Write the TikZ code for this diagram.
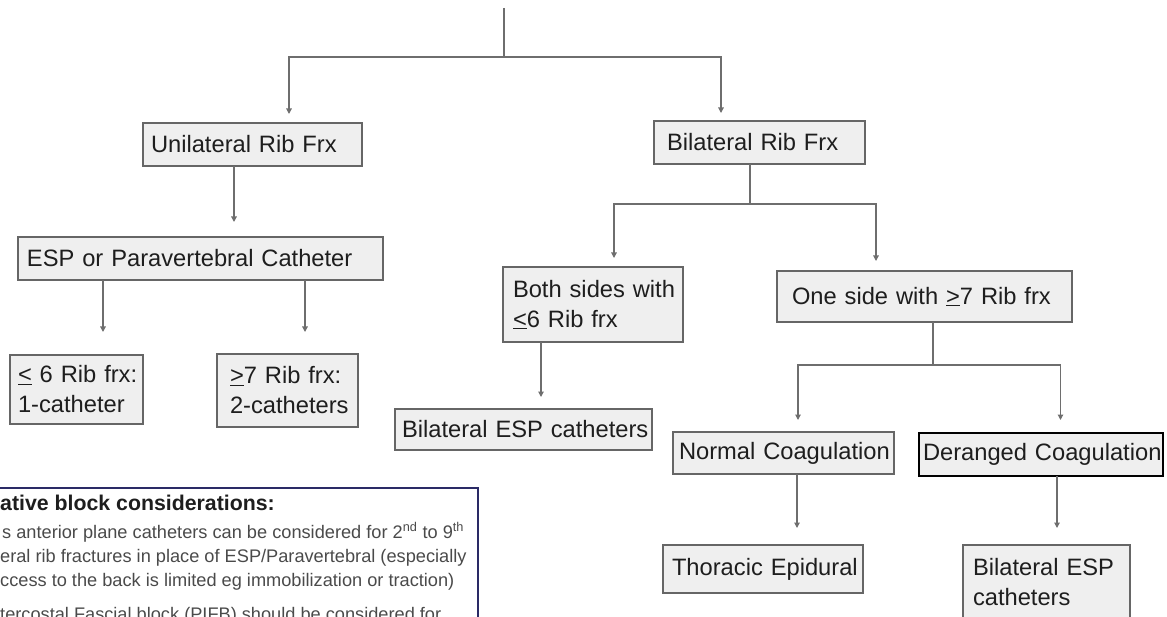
\documentclass[tikz,border=0pt]{standalone}
\usepackage{fontspec}
\setmainfont{Liberation Sans}
\usetikzlibrary{arrows.meta, calc}

\definecolor{boxgrey}{HTML}{EFEFEF}
\definecolor{edgegrey}{HTML}{666666}
\definecolor{linegrey}{HTML}{6E6E6E}
\definecolor{ink}{HTML}{1E1E1E}
\definecolor{notenavy}{HTML}{2A2A66}
\definecolor{notegrey}{HTML}{4A4A4A}

\newcommand{\boxfont}{\fontsize{23.7}{30}\selectfont\hyphenpenalty=10000\exhyphenpenalty=10000}

\begin{document}
\begin{tikzpicture}[
x=1pt, y=-1pt,
    box/.style={draw=edgegrey, line width=1.2pt, fill=boxgrey, text=ink, font=\boxfont, align=left, inner ysep=0pt, outer sep=0pt, anchor=north west},
    line/.style={draw=linegrey, line width=1.2pt},
    arr/.style={line, -{Triangle[width=5.5pt, length=5.5pt]}, shorten >=10pt},
    notehead/.style={anchor=base west, inner sep=0pt, text=ink, font=\fontsize{21.3}{26}\selectfont\bfseries},
    notebody/.style={anchor=base west, inner sep=0pt, text=notegrey, font=\fontsize{18.2}{24}\selectfont}
]
    \useasboundingbox (0,0) rectangle (1167,617);

    % ================= BOXES =================
    \node[box, text width=203pt, inner xsep=8pt, minimum height=43pt] (uni) at (143,123) {Unilateral~Rib~Frx};
    \node[box, text width=185pt, inner xsep=13pt, minimum height=43pt] (bil) at (654,121) {Bilateral~Rib~Frx};

    % Unilateral side
    \node[box, text width=347pt, inner xsep=9pt, minimum height=43pt] (esp) at (18,237) {ESP~or~Paravertebral~Catheter};
    \node[box, text width=117pt, inner xsep=8pt, minimum height=69pt] (le6) at (10,355) {\underline{<}~6~Rib~frx:\\1-catheter};
    \node[box, text width=115pt, inner xsep=13pt, minimum height=73pt] (ge7) at (217,354) {\underline{>}7~Rib~frx:\\2-catheters};

    % Bilateral side
    \node[box, text width=160pt, inner xsep=10pt, minimum height=75pt] (both) at (503,267) {Both~sides~with\\\underline{<}6~Rib~frx};
    \node[box, text width=243pt, inner xsep=7pt, minimum height=41pt] (bilesp) at (395,409) {Bilateral~ESP~catheters};
    \node[box, text width=265pt, inner xsep=15pt, minimum height=51pt] (one) at (777,271) {One~side~with~\underline{>}7~Rib~frx};
    \node[box, text width=209pt, inner xsep=6pt, minimum height=42pt] (normal) at (673,432) {Normal~Coagulation};
    \node[box, draw=black, line width=1.5pt, text width=236pt, inner xsep=4pt, minimum height=43pt] (deranged) at (919,433) {Deranged~Coagulation};
    \node[box, text width=182pt, inner xsep=9pt, minimum height=48pt] (thor) at (663,545) {Thoracic~Epidural};
    \node[box, text width=147pt, inner xsep=10pt, minimum height=75pt] (bilesp2) at (963,545) {Bilateral~ESP\\catheters};

    % ================= CONNECTORS =================
    \coordinate (root) at (504,8);
    \coordinate (split) at (504,57);
    \draw[line] (root) -- (split);
    \draw[arr, shorten >=9pt] (split) -| ([xshift=36.5pt]uni.north);
    \draw[arr, shorten >=8pt] (split) -| ([xshift=-38.5pt]bil.north);

    \draw[arr, shorten >=15pt] ([xshift=-18.5pt]uni.south) coordinate (u1) -- (u1 |- esp.north);
    \draw[arr, shorten >=23pt] ([xshift=-97.5pt]esp.south) coordinate (e1) -- (e1 |- le6.north);
    \draw[arr, shorten >=22pt] ([xshift=104.5pt]esp.south) coordinate (e2) -- (e2 |- ge7.north);

    \draw[line] ([xshift=-9.5pt]bil.south) -- ++(0,40) coordinate (bsplit);
    \draw[arr, shorten >=9pt] (bsplit) -| ([xshift=21pt]both.north);
    \draw[arr, shorten >=10pt] (bsplit) -| ([xshift=-48.5pt]one.north);
    \draw[arr, shorten >=12pt] ([xshift=-52pt]both.south) coordinate (b1) -- (b1 |- bilesp.north);

    \draw[line] ([xshift=8.5pt]one.south) -- ++(0,43) coordinate (osplit);
    \draw[arr, shorten >=12pt] (osplit) -| ([xshift=14.5pt]normal.north);
    \draw[arr, shorten >=13pt] (osplit) -| ([xshift=19.5pt]deranged.north);
    \draw[arr, shorten >=17pt] ([xshift=13.5pt]normal.south) coordinate (n1) -- (n1 |- thor.north);
    \draw[arr, shorten >=17pt] ([xshift=16pt]deranged.south) coordinate (d1) -- (d1 |- bilesp2.north);

    % ================= NOTE =================
    \draw[notenavy, line width=1.2pt] (-5,488) rectangle (478,640);
    \node[notehead] (nhead) at (0,510) {ative block considerations:};
    \node[notebody] (nline1) at (2,538) {s anterior plane catheters can be considered for 2\textsuperscript{nd} to 9\textsuperscript{th}};
    \node[notebody] (nline2) at (0,562) {eral rib fractures in place of ESP/Paravertebral (especially};
    \node[notebody] (nline3) at (0,586) {ccess to the back is limited eg immobilization or traction)};
    \node[notebody] (nline4) at (0,620) {tercostal Fascial block (PIFB) should be considered for};

\end{tikzpicture}
\end{document}
